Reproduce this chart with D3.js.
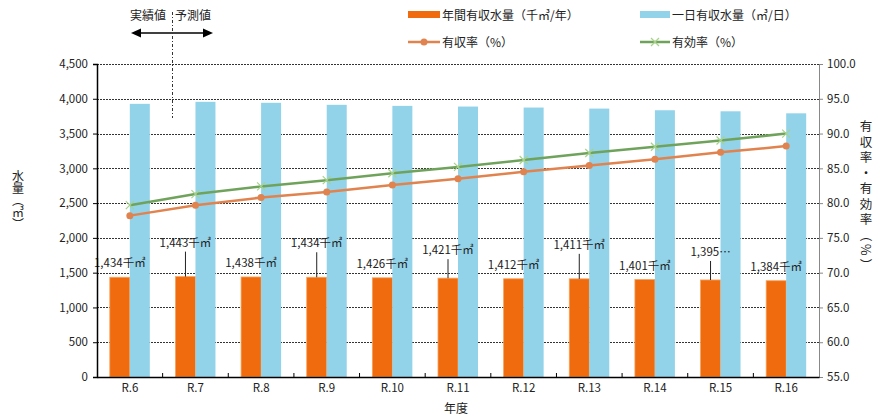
<!DOCTYPE html>
<html>
<head>
<meta charset="utf-8">
<script src="https://cdn.jsdelivr.net/npm/d3@7"></script>
<style>
  html, body { margin: 0; padding: 0; background: #fff; }
  svg { display: block; }
  text { font-family: "Noto Sans CJK JP", "Noto Sans", sans-serif; fill: #222; }
</style>
</head>
<body>
<svg id="chart" width="880" height="420"></svg>
<script>
// 年度
const years = ["R.6", "R.7", "R.8", "R.9", "R.10", "R.11", "R.12", "R.13", "R.14", "R.15", "R.16"];
// 年間有収水量（千㎥/年）
const annualVolume = [1434, 1443, 1438, 1434, 1426, 1421, 1412, 1411, 1401, 1395, 1384];
// 一日有収水量（㎥/日）
const dailyVolume = [3927, 3956, 3942, 3913, 3898, 3888, 3874, 3859, 3835, 3820, 3791];
// 有収率（%）
const revenueRate = [78.2, 79.7, 80.8, 81.6, 82.6, 83.5, 84.5, 85.4, 86.3, 87.3, 88.2];
// 有効率（%）
const effectiveRate = [79.7, 81.3, 82.4, 83.3, 84.3, 85.2, 86.2, 87.2, 88.1, 89.0, 90.0];
// ラベル文字列
const annualLabels = ["1,434千㎥", "1,443千㎥", "1,438千㎥", "1,434千㎥", "1,426千㎥", "1,421千㎥",
                      "1,412千㎥", "1,411千㎥", "1,401千㎥", "1,395…", "1,384千㎥"];
// 目盛
const leftTicks = [0, 500, 1000, 1500, 2000, 2500, 3000, 3500, 4000, 4500];
const rightTicks = [55, 60, 65, 70, 75, 80, 85, 90, 95, 100];

// ラベルの持ち上げ量（px、重なり回避用）
const labelLift = [0, 20, 0, 20, 0, 14, 0, 20, 0, 14, 0];

const C = {
  orange: "#F06A0E",
  orangeEdge: "#F6A25A",
  blue: "#92D3EA",
  rateLine: "#E0834E",
  effLine: "#6FA35B",
  effMark: "#A7D28A"
};

const svg = d3.select("#chart");
const plotL = 97, plotR = 819, plotT = 64, plotB = 377;

const x = d3.scaleBand().domain(years).range([plotL, plotR]).padding(0);
const yL = d3.scaleLinear().domain([0, 4500]).range([plotB, plotT]);
const yR = d3.scaleLinear().domain([55, 100]).range([plotB, plotT]);
const barW = 20;
const cx = d => x(d) + x.bandwidth() / 2;

// グリッド線
svg.append("g")
  .selectAll("line")
  .data(leftTicks.filter(t => t > 0))
  .join("line")
  .attr("x1", plotL).attr("x2", plotR)
  .attr("y1", d => Math.round(yL(d)) + 0.5).attr("y2", d => Math.round(yL(d)) + 0.5)
  .attr("stroke", "#333").attr("stroke-width", 1)
  .attr("stroke-dasharray", "2,1");

// 棒：年間有収水量
svg.append("g")
  .selectAll("rect")
  .data(years)
  .join("rect")
  .attr("x", d => cx(d) - barW)
  .attr("width", barW)
  .attr("y", (d, i) => yL(annualVolume[i]))
  .attr("height", (d, i) => plotB - yL(annualVolume[i]))
  .attr("fill", C.orange)
  .attr("stroke", C.orangeEdge).attr("stroke-width", 0.8);

// 棒：一日有収水量
svg.append("g")
  .selectAll("rect")
  .data(years)
  .join("rect")
  .attr("x", d => cx(d))
  .attr("width", barW)
  .attr("y", (d, i) => yL(dailyVolume[i]))
  .attr("height", (d, i) => plotB - yL(dailyVolume[i]))
  .attr("fill", C.blue);

// 年間有収水量ラベル
const lab = svg.append("g").attr("font-size", 11.5);
years.forEach((d, i) => {
  const bx = cx(d) - barW / 2;
  const top0 = yL(annualVolume[i]);
  const baseY = top0 - 10 - labelLift[i];
  if (labelLift[i] > 0) {
    lab.append("line")
      .attr("x1", bx).attr("x2", bx)
      .attr("y1", baseY + 5).attr("y2", top0)
      .attr("stroke", "#222").attr("stroke-width", 1);
  }
  lab.append("text")
    .attr("x", bx).attr("y", baseY)
    .attr("text-anchor", "middle")
    .text(annualLabels[i]);
});

// 折れ線：有効率
const lineR = d3.line().x((d, i) => cx(years[i])).y(d => yR(d));
svg.append("path")
  .datum(effectiveRate)
  .attr("d", lineR)
  .attr("fill", "none").attr("stroke", C.effLine).attr("stroke-width", 2.5);
svg.append("g")
  .selectAll("path")
  .data(effectiveRate)
  .join("path")
  .attr("d", (d, i) => {
    const px = cx(years[i]), py = yR(d), s = 4;
    return `M${px - s},${py - s}L${px + s},${py + s}M${px - s},${py + s}L${px + s},${py - s}`;
  })
  .attr("stroke", C.effMark).attr("stroke-width", 1.2);

// 折れ線：有収率
svg.append("path")
  .datum(revenueRate)
  .attr("d", lineR)
  .attr("fill", "none").attr("stroke", C.rateLine).attr("stroke-width", 2.5);
svg.append("g")
  .selectAll("circle")
  .data(revenueRate)
  .join("circle")
  .attr("cx", (d, i) => cx(years[i]))
  .attr("cy", d => yR(d))
  .attr("r", 3.5)
  .attr("fill", C.rateLine);

// 左軸
const axL = svg.append("g")
  .attr("transform", `translate(${plotL},0)`)
  .call(d3.axisLeft(yL).tickValues(leftTicks).tickFormat(d3.format(",")).tickSize(4).tickPadding(5));
axL.select(".domain").attr("stroke", "#000").attr("stroke-width", 1.5);
axL.selectAll("text").attr("font-size", 11.5).attr("font-family", "\"Noto Sans CJK JP\", sans-serif").attr("fill", "#222");

// 右軸
const axR = svg.append("g")
  .attr("transform", `translate(${plotR},0)`)
  .call(d3.axisRight(yR).tickValues(rightTicks).tickFormat(d3.format(".1f")).tickSize(4).tickPadding(4));
axR.select(".domain").attr("stroke", "#888");
axR.selectAll(".tick line").attr("stroke", "#888");
axR.selectAll("text").attr("font-size", 11.5).attr("font-family", "\"Noto Sans CJK JP\", sans-serif").attr("fill", "#222");

// 横軸
const axB = svg.append("g")
  .attr("transform", `translate(0,${plotB})`)
  .call(d3.axisBottom(x).tickSize(0).tickPadding(7));
axB.select(".domain").attr("stroke", "#000").attr("stroke-width", 1.5);
axB.selectAll("text").attr("font-size", 11.5).attr("font-family", "\"Noto Sans CJK JP\", sans-serif").attr("fill", "#222");
// 区切り目盛
svg.append("g")
  .selectAll("line")
  .data(years.slice(1))
  .join("line")
  .attr("x1", d => x(d)).attr("x2", d => x(d))
  .attr("y1", plotB - 4).attr("y2", plotB)
  .attr("stroke", "#000");

// 軸タイトル
svg.append("text")
  .attr("x", 456).attr("y", 413)
  .attr("text-anchor", "middle").attr("font-size", 12)
  .text("年度");

svg.append("text")
  .attr("transform", "translate(18,200)")
  .attr("writing-mode", "vertical-rl")
  .attr("text-anchor", "middle")
  .attr("font-size", 12)
  .text("水量（㎥）");

svg.append("text")
  .attr("transform", "translate(866,197)")
  .attr("writing-mode", "vertical-rl")
  .attr("text-anchor", "middle")
  .attr("font-size", 12.5)
  .attr("letter-spacing", 3)
  .text("有収率・有効率（%）");

// 凡例
const lg = svg.append("g").attr("font-size", 12);
lg.append("rect").attr("x", 408).attr("y", 11).attr("width", 32).attr("height", 7).attr("fill", C.orange);
lg.append("text").attr("x", 442).attr("y", 19.5).text("年間有収水量（千㎥/年）");
lg.append("rect").attr("x", 640).attr("y", 11).attr("width", 30).attr("height", 7).attr("fill", C.blue);
lg.append("text").attr("x", 672).attr("y", 19.5).text("一日有収水量（㎥/日）");
lg.append("line").attr("x1", 408).attr("x2", 440).attr("y1", 42).attr("y2", 42)
  .attr("stroke", C.rateLine).attr("stroke-width", 2.5);
lg.append("circle").attr("cx", 424).attr("cy", 42).attr("r", 3.5).attr("fill", C.rateLine);
lg.append("text").attr("x", 442).attr("y", 46.5).text("有収率（%）");
lg.append("line").attr("x1", 640).attr("x2", 670).attr("y1", 42).attr("y2", 42)
  .attr("stroke", C.effLine).attr("stroke-width", 2.5);
lg.append("path").attr("d", "M651,38L659,46M651,46L659,38").attr("stroke", C.effMark).attr("stroke-width", 1.2);
lg.append("text").attr("x", 672).attr("y", 46.5).text("有効率（%）");

// 実績値／予測値の区分
const ann = svg.append("g");
ann.append("text").attr("x", 148).attr("y", 20).attr("text-anchor", "middle").attr("font-size", 12).text("実績値");
ann.append("text").attr("x", 193).attr("y", 20).attr("text-anchor", "middle").attr("font-size", 12).text("予測値");
ann.append("line").attr("x1", 139).attr("x2", 205).attr("y1", 33).attr("y2", 33)
  .attr("stroke", "#000").attr("stroke-width", 1.5);
ann.append("path").attr("d", "M131,33L141,28.5L141,37.5Z").attr("fill", "#000");
ann.append("path").attr("d", "M213,33L203,28.5L203,37.5Z").attr("fill", "#000");
ann.append("line").attr("x1", 172.5).attr("x2", 172.5).attr("y1", 12).attr("y2", 118)
  .attr("stroke", "#333").attr("stroke-width", 1)
  .attr("stroke-dasharray", "3,2,1,2");
</script>
</body>
</html>
